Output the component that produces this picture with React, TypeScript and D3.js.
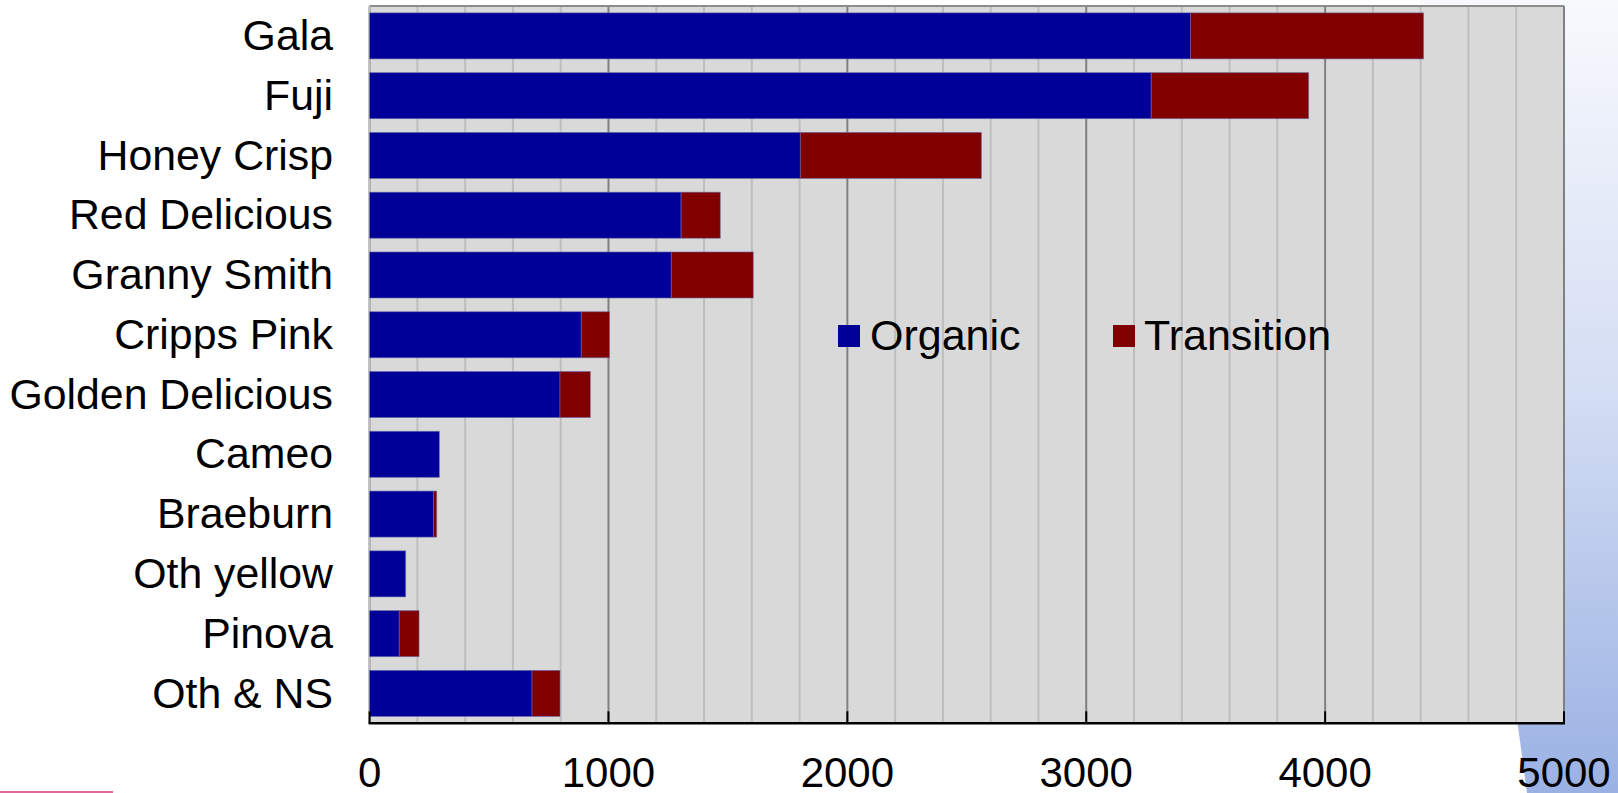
import React from 'react'
import * as d3 from 'd3'

// apple varieties, top to bottom
const varieties = [
  'Gala', 'Fuji', 'Honey Crisp', 'Red Delicious', 'Granny Smith', 'Cripps Pink',
  'Golden Delicious', 'Cameo', 'Braeburn', 'Oth yellow', 'Pinova', 'Oth & NS',
]
const organic = [3436, 3272, 1803, 1304, 1263, 886, 797, 292, 267, 151, 124, 680]
const transition = [976, 659, 758, 164, 343, 118, 127, 0, 14, 0, 83, 117]
const seriesNames = ['Organic', 'Transition']
const seriesColors = ['#000099', '#800000']
const xTicks = [0, 1000, 2000, 3000, 4000, 5000]

const W = 1618
const H = 793
const plot = { left: 369.6, right: 1564, top: 6, bottom: 723.3 }
const FONT = 'Arial, "Liberation Sans", sans-serif'

export default function App() {
  const x = d3.scaleLinear().domain([0, 5000]).range([plot.left, plot.right])
  const y = d3.scaleBand()
    .domain(varieties)
    .range([plot.top, plot.bottom])
    .paddingInner(0.23)
    .paddingOuter(0.115)

  const rows = varieties.map((v, i) => ({ name: v, Organic: organic[i], Transition: transition[i] }))
  const stacked = d3.stack().keys(seriesNames)(rows as any)

  const minor = x.ticks(25)

  // legend layout
  const legend = [
    { name: seriesNames[0], color: seriesColors[0], sx: 838, tx: 870 },
    { name: seriesNames[1], color: seriesColors[1], sx: 1113, tx: 1144 },
  ]

  return (
    <svg width={W} height={H} style={{ position: 'absolute', left: 0, top: 0, background: '#fff' }}>
      <defs>
        <linearGradient id="bgGrad" x1="0" y1="0" x2="0" y2="1">
          <stop offset="0" stopColor="#f8f9fd" />
          <stop offset="0.5" stopColor="#d3ddf3" />
          <stop offset="1" stopColor="#9ab1e3" />
        </linearGradient>
      </defs>

      {/* decorative slide background */}
      <polygon points={`1420,0 ${W},0 ${W},${H} 1527,${H}`} fill="url(#bgGrad)" />
      <rect x={0} y={791} width={113} height={2} fill="#e2689a" />

      {/* plot area */}
      <rect x={plot.left} y={plot.top} width={plot.right - plot.left} height={plot.bottom - plot.top} fill="#d9d9d9" />

      {minor.map(t => (
        <line key={'m' + t} x1={x(t)} x2={x(t)} y1={plot.top} y2={plot.bottom}
          stroke={t % 1000 === 0 ? '#808080' : '#bebebe'} strokeWidth={2} />
      ))}

      {/* plot border */}
      <line x1={plot.left} x2={plot.right} y1={plot.top} y2={plot.top} stroke="#8c8c8c" strokeWidth={2} />
      <line x1={plot.right} x2={plot.right} y1={plot.top} y2={plot.bottom} stroke="#808080" strokeWidth={2} />
      <line x1={plot.left} x2={plot.left} y1={plot.top} y2={plot.bottom} stroke="#bdbdbd" strokeWidth={2} />

      {/* stacked bars */}
      {stacked.map((s, si) => (
        <g key={s.key} fill={seriesColors[si]}>
          {s.map((d: any, i) => {
            const w = x(d[1]) - x(d[0])
            if (w <= 0) return null
            return (
              <rect key={i} x={x(d[0])} y={y(varieties[i])} width={w} height={y.bandwidth()}
                stroke="#6a6aa8" strokeWidth={0.8} strokeOpacity={0.7} />
            )
          })}
        </g>
      ))}

      {/* x axis */}
      <line x1={plot.left - 1} x2={plot.right + 1} y1={plot.bottom} y2={plot.bottom} stroke="#000" strokeWidth={2.5} />
      {xTicks.map(t => (
        <g key={t}>
          <line x1={x(t)} x2={x(t)} y1={plot.bottom} y2={plot.bottom - 12} stroke="#000" strokeWidth={2} />
          <text x={x(t)} y={787} textAnchor="middle" fontFamily={FONT} fontSize={42} fill="#000">{t}</text>
        </g>
      ))}

      {/* category labels */}
      {varieties.map(v => (
        <text key={v} x={333} y={(y(v) as number) + y.bandwidth() / 2} dy="0.33em" textAnchor="end"
          fontFamily={FONT} fontSize={42.8} fill="#000">{v}</text>
      ))}

      {/* legend */}
      {legend.map(l => (
        <g key={l.name}>
          <rect x={l.sx} y={325} width={22} height={22} fill={l.color} />
          <text x={l.tx} y={350} fontFamily={FONT} fontSize={43} fill="#000">{l.name}</text>
        </g>
      ))}
    </svg>
  )
}
